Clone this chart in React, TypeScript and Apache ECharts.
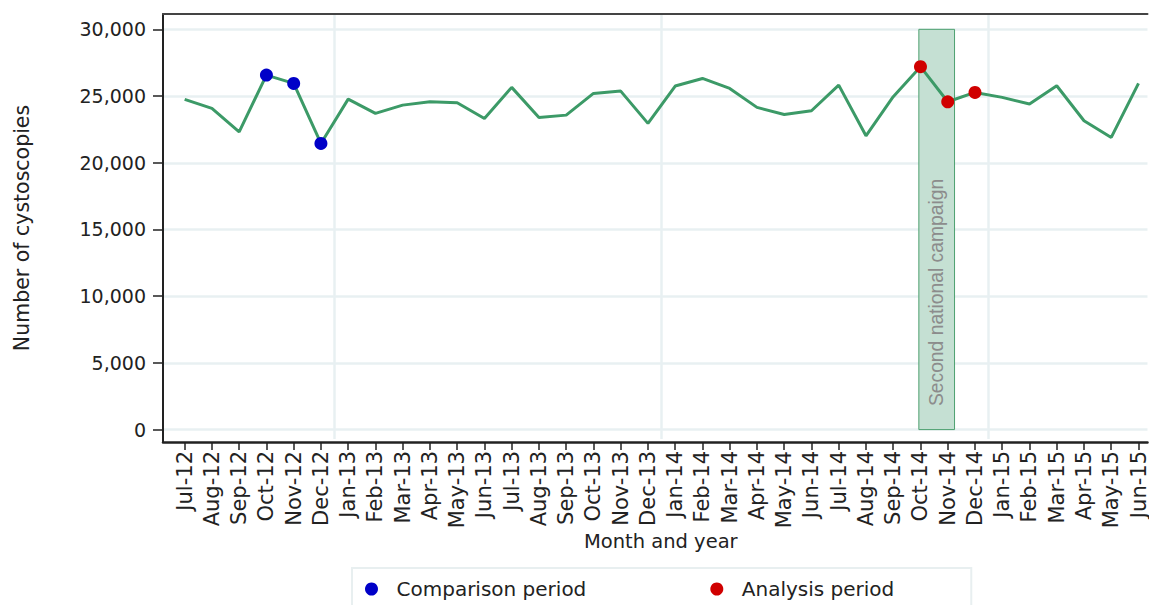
import React, { useEffect, useRef } from "react";
import * as echarts from "echarts";

const months = [
  "Jul-12", "Aug-12", "Sep-12", "Oct-12", "Nov-12", "Dec-12",
  "Jan-13", "Feb-13", "Mar-13", "Apr-13", "May-13", "Jun-13",
  "Jul-13", "Aug-13", "Sep-13", "Oct-13", "Nov-13", "Dec-13",
  "Jan-14", "Feb-14", "Mar-14", "Apr-14", "May-14", "Jun-14",
  "Jul-14", "Aug-14", "Sep-14", "Oct-14", "Nov-14", "Dec-14",
  "Jan-15", "Feb-15", "Mar-15", "Apr-15", "May-15", "Jun-15",
];

const cystoscopies = [
  24750, 24075, 22320, 26570, 25950, 21450,
  24770, 23700, 24320, 24570, 24500, 23320,
  25650, 23400, 23570, 25200, 25370, 22950,
  25750, 26320, 25570, 24150, 23620, 23900,
  25820, 22020, 24950, 27200, 24570, 25270,
  24900, 24400, 25770, 23150, 21900, 25950,
];

const comparisonMonths = ["Oct-12", "Nov-12", "Dec-12"];
const analysisMonths = ["Oct-14", "Nov-14", "Dec-14"];

const yTicks = [0, 5000, 10000, 15000, 20000, 25000, 30000];
const yearDividers = [5.5, 17.5, 29.5];
const campaignSpan = [26.94, 28.25];
const campaignRange = [0, 30000];

const FONT = "DejaVu Sans";
const TEXT = "#222";
const GRID = "#e8f0f2";
const GREEN = "#3c9a67";

export default function App() {
  const ref = useRef<HTMLDivElement>(null);

  useEffect(() => {
    if (!ref.current) return;
    const chart = echarts.init(ref.current, undefined, { renderer: "svg" });
    const idx = months.map((_, i) => i);
    const X_MIN = -0.795;
    const X_MAX = 35.33;
    const Y_MIN = -930;
    const Y_MAX = 31150;

    const pointsFor = (list: string[]) =>
      list.map((m) => {
        const i = months.indexOf(m);
        return [i, cystoscopies[i]];
      });

    chart.setOption({
      animation: false,
      backgroundColor: "#fff",
      textStyle: { fontFamily: FONT },
      grid: { left: 163, top: 14, right: 0, bottom: 163, containLabel: false },
      legend: {
        data: ["Comparison period", "Analysis period"],
        left: 352,
        top: 568,
        orient: "horizontal",
        icon: "circle",
        itemWidth: 40,
        itemHeight: 13,
        symbolKeepAspect: true,
        itemGap: 124,
        padding: [11, 77, 12, 13],
        borderColor: "#e8eff0",
        borderWidth: 2,
        textStyle: { fontFamily: FONT, fontSize: 20, color: TEXT },
      },
      xAxis: [
        {
          type: "value",
          min: X_MIN,
          max: X_MAX,
          position: "bottom",
          name: "Month and year",
          nameLocation: "middle",
          nameGap: 89,
          nameMoveOverlap: false,
          nameTextStyle: { fontFamily: FONT, fontSize: 19.5, color: TEXT, padding: [0, 0, 0, 11] },
          axisLine: { show: true, onZero: false, lineStyle: { color: "#222", width: 2.5 } },
          axisTick: {
            show: true,
            customValues: idx,
            length: 8,
            lineStyle: { color: "#222", width: 1.5 },
          },
          axisLabel: {
            show: true,
            customValues: idx,
            rotate: 90,
            margin: 9,
            fontFamily: FONT,
            fontSize: 21,
            color: TEXT,
            formatter: (v: number) => months[Math.round(v)] ?? "",
          },
          splitLine: { show: false },
        },
        {
          type: "value",
          min: X_MIN,
          max: X_MAX,
          position: "top",
          axisLine: { show: true, onZero: false, lineStyle: { color: "#444", width: 2 } },
          axisTick: { show: false },
          axisLabel: { show: false },
          splitLine: { show: false },
        },
      ],
      yAxis: {
        type: "value",
        min: Y_MIN,
        max: Y_MAX,
        name: "Number of cystoscopies",
        nameLocation: "middle",
        nameGap: 131,
        nameMoveOverlap: false,
        nameTextStyle: { fontFamily: FONT, fontSize: 20.5, color: TEXT },
        axisLine: { show: true, onZero: false, lineStyle: { color: "#222", width: 2 } },
        axisTick: {
          show: true,
          customValues: yTicks,
          length: 10,
          lineStyle: { color: "#222", width: 1.5 },
        },
        axisLabel: {
          show: true,
          customValues: yTicks,
          margin: 17,
          fontFamily: FONT,
          fontSize: 19,
          color: TEXT,
          formatter: (v: number) => v.toLocaleString("en-US"),
        },
        splitLine: { show: false },
      },
      series: [
        {
          name: "Cystoscopies",
          type: "line",
          xAxisIndex: 0,
          data: idx.map((i) => [i, cystoscopies[i]]),
          showSymbol: false,
          symbol: "none",
          lineStyle: { color: GREEN, width: 3 },
          itemStyle: { color: GREEN },
          z: 3,
          markLine: {
            silent: true,
            symbol: ["none", "none"],
            z: 0,
            label: { show: false },
            lineStyle: { color: GRID, width: 2.5, type: "solid" },
            data: [
              ...yTicks.map((v) => ({ yAxis: v })),
              ...yearDividers.map((x) => [
                { coord: [x, Y_MAX] },
                { coord: [x, Y_MIN + 230] },
              ]),
            ],
          },
          markArea: {
            silent: true,
            z: 1,
            itemStyle: { color: "#c5e0d3", borderColor: "#4ea070", borderWidth: 1 },
            label: {
              show: true,
              position: "insideBottom",
              distance: 24,
              rotate: 90,
              align: "left",
              verticalAlign: "middle",
              fontFamily: "Liberation Sans",
              fontSize: 19.3,
              color: "#8c8c8c",
            },
            data: [
              [
                { name: "Second national campaign", xAxis: campaignSpan[0], yAxis: campaignRange[0] },
                { xAxis: campaignSpan[1], yAxis: campaignRange[1] },
              ],
            ],
          },
        },
        {
          name: "Comparison period",
          type: "scatter",
          data: pointsFor(comparisonMonths),
          symbol: "circle",
          symbolSize: 13,
          itemStyle: { color: "#0000c8", opacity: 1 },
          z: 4,
        },
        {
          name: "Analysis period",
          type: "scatter",
          data: pointsFor(analysisMonths),
          symbol: "circle",
          symbolSize: 13,
          itemStyle: { color: "#d00000", opacity: 1 },
          z: 4,
        },
      ],
    });

    return () => chart.dispose();
  }, []);

  return (
    <div
      ref={ref}
      style={{ position: "fixed", left: 0, top: 0, width: 1149, height: 605, background: "#fff" }}
    />
  );
}
